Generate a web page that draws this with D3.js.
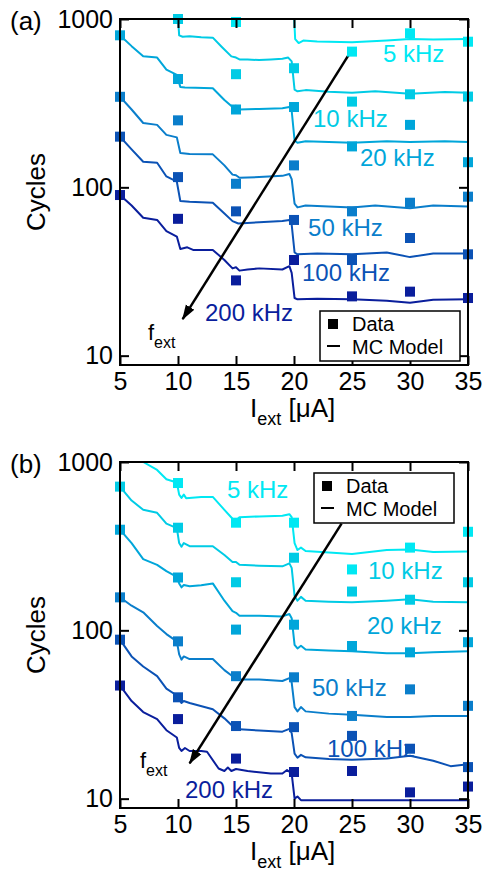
<!DOCTYPE html>
<html>
<head>
<meta charset="utf-8">
<script src="https://d3js.org/d3.v7.min.js"></script>
<style>
  body { margin: 0; background: #fff; }
  svg text { font-family: "Liberation Sans", Arial, Helvetica, sans-serif; }
</style>
</head>
<body>
<div id="chart"></div>
<script>
// series
var freqs = ['5 kHz', '10 kHz', '20 kHz', '50 kHz', '100 kHz', '200 kHz'];
var colors = ['#00e8f3', '#00cbe5', '#00a6da', '#0a7ecb', '#0b52b5', '#0a1e9c'];
var currents = [5, 10, 15, 20, 25, 30, 35];
var yTicks = [10, 100, 1000];

// panel (a) measured points, one row per frequency (null = not shown)
var squaresA = [
  [null, null, 960, null, 640, 822, 733],
  [null, 1000, 470, 510, 323, 357, 346],
  [800, 440, 290, 300, 175, 235, 141],
  [345, 250, 105, 135, 72, 81, 88],
  [200, 115, 72, 64, 37, 50, 40],
  [90, 65, 28, 37, 22.5, 24, 22]
];

// panel (a) MC model curves [current, cycles]
var modelA = [
  [[19.9, 1500], [20.1, 760], [20.4, 720], [20.8, 745], [22, 735], [25, 728], [28, 745], [30, 760], [32, 755], [35, 760]],
  [[9.9, 1300], [10.1, 800], [10.4, 785], [11, 790], [12, 780], [13, 775], [13.8, 680], [14.6, 600], [15, 590], [15.3, 575], [16, 575], [17, 570], [18, 575], [19, 580], [19.5, 590], [19.8, 560], [20.05, 380], [20.3, 372], [21, 378], [23, 370], [25, 365], [27, 372], [30, 360], [33, 368], [35, 365]],
  [[5, 800], [6, 690], [7, 600], [8.2, 590], [9, 500], [9.9, 465], [10.2, 395], [10.6, 392], [11.5, 390], [13, 388], [14, 330], [14.7, 300], [15, 305], [15.3, 290], [17, 292], [19, 295], [19.6, 300], [19.8, 285], [20.05, 190], [20.3, 184], [21, 188], [23, 186], [25, 184], [28, 188], [30, 186], [33, 188], [35, 186]],
  [[5, 345], [6, 290], [7, 241], [8.2, 235], [9, 205], [9.9, 198], [10.2, 160], [11, 158], [13, 157], [14, 135], [14.7, 119], [15, 118], [15.3, 114], [17, 115], [19, 117], [19.6, 120], [19.8, 112], [20.05, 80], [20.3, 76], [21, 78], [23, 77], [25, 76], [27, 78], [30, 75], [32, 78], [35, 77]],
  [[5, 200], [6, 168], [7, 142], [8.2, 140], [9, 116], [9.9, 108], [10.2, 83], [11, 82], [13, 81], [14, 70], [14.7, 63], [15.2, 61], [17, 62], [19, 63], [19.6, 64], [19.8, 60], [20.05, 41], [20.3, 40], [22, 40.5], [25, 40], [28, 41], [30, 38.5], [32, 40.5], [35, 40.5]],
  [[5, 90], [6, 78], [7, 66], [8.2, 64], [9, 55], [9.9, 51], [10.2, 43], [10.8, 44], [11.3, 42.5], [13, 42.5], [14, 37], [14.7, 33], [15, 33.5], [15.3, 32], [16, 32.5], [17, 33], [19, 32.5], [19.6, 34], [19.8, 31], [20.05, 22], [20.3, 21.6], [22, 21.8], [25, 21.6], [28, 21.2], [30, 20.6], [32, 21.5], [35, 21.6]]
];

// panel (b) measured points
var squaresB = [
  [null, 750, 436, 436, 230, 310, 385],
  [714, 407, 193, 270, 170, 152, 193],
  [396, 206, 101, 108, 80.7, 74, 85],
  [157, 86, 53.4, 52.6, 31, 44.6, 35.6],
  [88, 40, 27, 26.6, 23.6, 19.8, 15.4],
  [47, 29.7, 17.3, 14.4, 14.6, 10.9, 11.8]
];

// panel (b) MC model curves
var modelB = [
  [[5, 1500], [7, 1000], [8.2, 897], [9, 790], [9.9, 755], [10.1, 640], [10.3, 612], [10.5, 640], [10.7, 610], [12, 620], [13, 620], [14, 520], [14.7, 460], [15, 450], [15.3, 470], [17, 475], [19, 480], [19.6, 490], [19.8, 470], [20.05, 330], [20.3, 300], [20.6, 310], [21, 296], [23, 290], [25, 284], [28, 300], [30, 302], [32, 292], [35, 294]],
  [[5, 714], [6, 590], [7, 520], [8.2, 499], [9, 430], [9.9, 405], [10.1, 330], [10.3, 314], [10.5, 330], [11, 316], [13, 316], [14, 280], [14.7, 255], [15, 255], [15.3, 245], [17, 242], [19, 240], [19.6, 250], [19.8, 235], [20.05, 160], [20.3, 150], [20.6, 158], [21, 150], [23, 148], [25, 147], [28, 150], [30, 153], [32, 148], [35, 147]],
  [[5, 396], [6, 330], [7, 265], [8.2, 245], [9, 225], [9.9, 208], [10.1, 190], [10.3, 180], [10.5, 186], [11, 183], [12, 185], [13, 190], [14, 150], [14.7, 130], [15, 127], [15.3, 122], [17, 122], [19, 121], [19.6, 125], [19.8, 118], [20.05, 82], [20.3, 78], [20.6, 81], [21, 77], [23, 76], [25, 75], [28, 73], [30, 73], [32, 74], [35, 75]],
  [[5, 157], [6, 140], [7, 128], [8.2, 106], [9, 95], [9.9, 86], [10.1, 72], [10.3, 67], [10.5, 70], [11, 67.5], [13, 67.5], [14, 58], [14.7, 53.4], [15, 52], [15.3, 51], [17, 51], [19, 50], [19.6, 52], [19.8, 49], [20.05, 35], [20.3, 33], [20.6, 35], [21, 33], [23, 32], [25, 31.5], [28, 30.6], [30, 30.6], [32, 31], [35, 31]],
  [[5, 88], [6, 70], [7, 61], [8.2, 53.4], [9, 45], [9.9, 41], [10.1, 39], [10.3, 37], [10.5, 38], [11, 37], [13, 34], [14, 30], [14.7, 27], [15, 26.5], [15.3, 25.8], [17, 25.4], [19, 25], [19.6, 26], [19.8, 24.5], [20.05, 18.5], [20.3, 17.5], [20.6, 18.2], [21, 17.6], [23, 17.2], [25, 17], [28, 17.3], [30, 18], [32, 16.8], [33.5, 15.6], [35, 16]],
  [[5, 47], [6, 38], [7, 32.7], [8.2, 29.7], [9, 25.5], [9.9, 23.1], [10.1, 20], [10.3, 19.2], [10.6, 20], [11, 19.2], [12, 19.2], [12.5, 19], [13.5, 15.1], [14, 14.6], [14.3, 15.3], [14.6, 14.6], [15, 15], [16, 14.6], [18, 14.1], [19, 14.1], [19.4, 14.8], [19.8, 14.1], [20.05, 10.0], [20.3, 10.3], [20.6, 9.8], [23, 9.8], [28, 9.8], [35, 9.8]]
];

// where the frequency labels sit [current, cycles]
var labelPosA = [[27.67, 628], [21.64, 258], [25.69, 151], [21.21, 58], [20.69, 31.4], [12.33, 18.1]];
var labelPosB = [[14.22, 691], [26.38, 228], [26.29, 107], [21.55, 46], [22.84, 20], [10.6, 11.4]];

// f_ext arrow (from, to) and its label
var arrowA = [[24.7, 610], [10.4, 16.5]];
var arrowB = [[24.1, 430], [11.0, 16.2]];
var fextA = [7.41, 12.4];
var fextB = [6.72, 15.2];

var W = 485, H = 873;
var plot = { left: 120, right: 468, h: 346 };
var font = { tick: 25, label: 24, title: 26, legend: 20 };

var svg = d3.select('#chart')
  .append('svg')
  .attr('width', W)
  .attr('height', H);

var defs = svg.append('defs');

// arrow head
defs.append('marker')
  .attr('id', 'head')
  .attr('markerUnits', 'userSpaceOnUse')
  .attr('markerWidth', 16)
  .attr('markerHeight', 12)
  .attr('refX', 14)
  .attr('refY', 6)
  .attr('orient', 'auto')
  .append('path')
  .attr('d', 'M0,1 L15,6 L0,11 Z')
  .attr('fill', '#000');

function drawPanel(top, id, tag, squares, model, labelPos, arrow, fext, legendPos) {
  var bottom = top + plot.h;
  var x = d3.scaleLinear().domain([5, 35]).range([plot.left, plot.right]);
  var y = d3.scaleLog().domain([8.8, 1000]).range([bottom, top]);
  var g = svg.append('g').attr('class', 'panel-' + id);

  defs.append('clipPath')
    .attr('id', 'clip-' + id)
    .append('rect')
    .attr('x', plot.left)
    .attr('y', top)
    .attr('width', plot.right - plot.left)
    .attr('height', plot.h);

  // model curves
  var line = d3.line()
    .x(function (d) { return x(d[0]); })
    .y(function (d) { return y(d[1]); });

  g.append('g')
    .attr('clip-path', 'url(#clip-' + id + ')')
    .selectAll('path')
    .data(model)
    .enter()
    .append('path')
    .attr('d', line)
    .attr('fill', 'none')
    .attr('stroke', function (d, i) { return colors[i]; })
    .attr('stroke-width', 2)
    .attr('stroke-linejoin', 'round');

  // arrow
  g.append('line')
    .attr('x1', x(arrow[0][0]))
    .attr('y1', y(arrow[0][1]))
    .attr('x2', x(arrow[1][0]))
    .attr('y2', y(arrow[1][1]))
    .attr('stroke', '#000')
    .attr('stroke-width', 2.5)
    .attr('marker-end', 'url(#head)');

  // f_ext
  var ft = g.append('text')
    .attr('x', x(fext[0]))
    .attr('y', y(fext[1]))
    .attr('font-size', 22);
  ft.append('tspan').text('f');
  ft.append('tspan').attr('font-size', 16).attr('dy', 8).text('ext');

  // frequency labels
  g.append('g')
    .selectAll('text')
    .data(labelPos)
    .enter()
    .append('text')
    .attr('x', function (d) { return x(d[0]); })
    .attr('y', function (d) { return y(d[1]); })
    .attr('dy', '0.36em')
    .attr('font-size', font.label)
    .attr('fill', function (d, i) { return colors[i]; })
    .text(function (d, i) { return freqs[i]; });

  // data squares
  var s = 10;
  squares.forEach(function (row, i) {
    g.append('g')
      .selectAll('rect')
      .data(row.map(function (v, j) { return [currents[j], v]; })
        .filter(function (d) { return d[1] !== null; }))
      .enter()
      .append('rect')
      .attr('x', function (d) { return x(d[0]) - s / 2; })
      .attr('y', function (d) { return y(d[1]) - s / 2; })
      .attr('width', s)
      .attr('height', s)
      .attr('fill', colors[i]);
  });

  // axes, ticks pointing inward
  var left = g.append('g')
    .attr('transform', 'translate(' + plot.left + ',0)')
    .call(d3.axisLeft(y).tickValues(yTicks).tickSize(-9).tickPadding(7).tickFormat(d3.format('d')));
  var right = g.append('g')
    .attr('transform', 'translate(' + plot.right + ',0)')
    .call(d3.axisRight(y).tickValues(yTicks).tickSize(-9).tickFormat(''));
  var bot = g.append('g')
    .attr('transform', 'translate(0,' + bottom + ')')
    .call(d3.axisBottom(x).tickValues(currents).tickSize(-9).tickPadding(7));
  var topAx = g.append('g')
    .attr('transform', 'translate(0,' + top + ')')
    .call(d3.axisTop(x).tickValues(currents).tickSize(-9).tickFormat(''));

  [left, right, bot, topAx].forEach(function (a) {
    a.select('.domain').remove();
    a.selectAll('line').attr('stroke', '#000').attr('stroke-width', 2);
    a.selectAll('text')
      .attr('font-size', font.tick)
      .attr('fill', '#000')
      .attr('font-family', '"Liberation Sans", Arial, sans-serif');
  });

  // frame
  g.append('rect')
    .attr('x', plot.left)
    .attr('y', top)
    .attr('width', plot.right - plot.left)
    .attr('height', plot.h)
    .attr('fill', 'none')
    .attr('stroke', '#000')
    .attr('stroke-width', 2);

  // legend
  var lg = g.append('g')
    .attr('transform', 'translate(' + legendPos[0] + ',' + legendPos[1] + ')');
  lg.append('rect')
    .attr('width', 140)
    .attr('height', 50)
    .attr('fill', '#fff')
    .attr('stroke', '#000')
    .attr('stroke-width', 1.5);
  lg.append('rect')
    .attr('x', 8)
    .attr('y', 8)
    .attr('width', 10)
    .attr('height', 10)
    .attr('fill', '#000');
  lg.append('text')
    .attr('x', 32)
    .attr('y', 20)
    .attr('font-size', font.legend)
    .text('Data');
  lg.append('line')
    .attr('x1', 7)
    .attr('x2', 20)
    .attr('y1', 35)
    .attr('y2', 35)
    .attr('stroke', '#000')
    .attr('stroke-width', 2);
  lg.append('text')
    .attr('x', 32)
    .attr('y', 43)
    .attr('font-size', font.legend)
    .text('MC Model');

  // panel tag
  g.append('text')
    .attr('x', 10)
    .attr('y', top + 11)
    .attr('font-size', font.title)
    .text(tag);

  // y title
  g.append('text')
    .attr('transform', 'translate(36,' + (top + plot.h / 2) + ') rotate(-90)')
    .attr('text-anchor', 'middle')
    .attr('dy', '0.36em')
    .attr('font-size', font.title)
    .text('Cycles');

  // x title
  var xt = g.append('text')
    .attr('x', 250)
    .attr('y', bottom + 52)
    .attr('font-size', font.title);
  xt.append('tspan').text('I');
  xt.append('tspan').attr('font-size', 18).attr('dy', 8).text('ext');
  xt.append('tspan').attr('dy', -8).text(' [\u03bcA]');
}

drawPanel(19, 'a', '(a)', squaresA, modelA, labelPosA, arrowA, fextA, [320, 311]);
drawPanel(462, 'b', '(b)', squaresB, modelB, labelPosB, arrowB, fextB, [314, 473]);
</script>
</body>
</html>
